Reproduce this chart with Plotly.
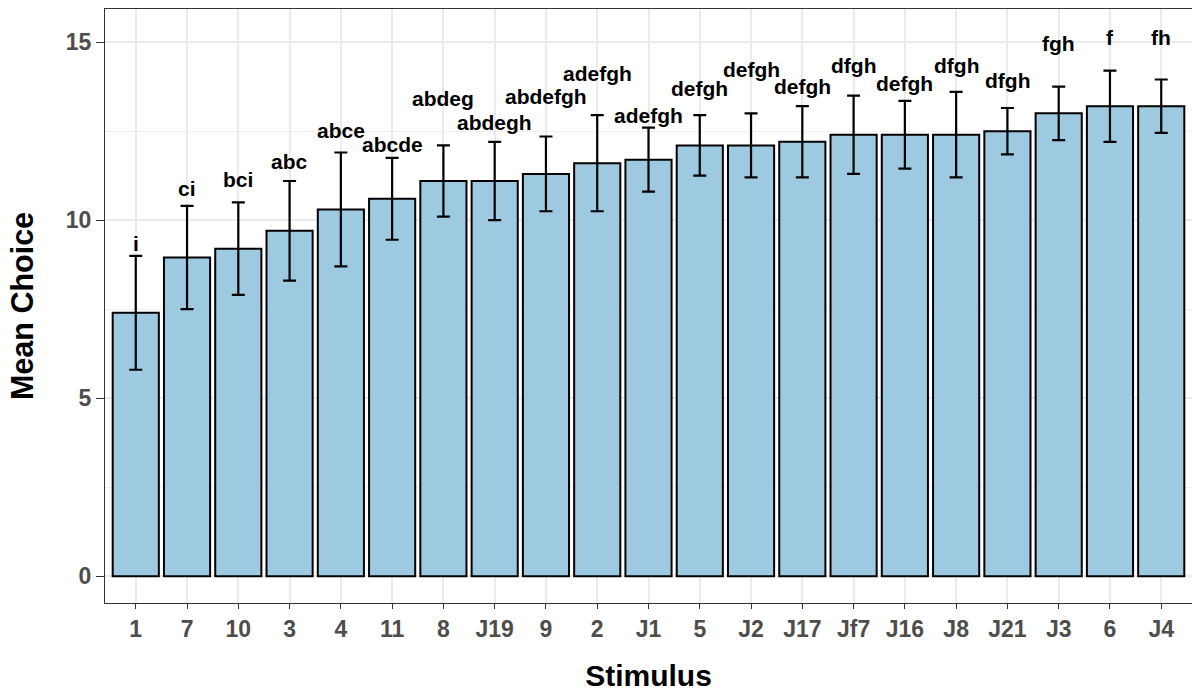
import plotly.graph_objects as go

# Stimuli ordered by mean choice
stimuli = ["1", "7", "10", "3", "4", "11", "8", "J19", "9", "2", "J1",
           "5", "J2", "J17", "Jf7", "J16", "J8", "J21", "J3", "6", "J4"]
mean_choice = [7.4, 8.95, 9.2, 9.7, 10.3, 10.6, 11.1, 11.1, 11.3, 11.6, 11.7,
               12.1, 12.1, 12.2, 12.4, 12.4, 12.4, 12.5, 13.0, 13.2, 13.2]
sd_choice = [1.6, 1.45, 1.3, 1.4, 1.6, 1.15, 1.0, 1.1, 1.05, 1.35, 0.9,
             0.85, 0.9, 1.0, 1.1, 0.95, 1.2, 0.65, 0.75, 1.0, 0.75]
# Compact letter display for pairwise comparisons
letters = ["i", "ci", "bci", "abc", "abce", "abcde", "abdeg", "abdegh", "abdefgh",
           "adefgh", "adefgh", "defgh", "defgh", "defgh", "dfgh", "defgh", "dfgh",
           "dfgh", "fgh", "f", "fh"]
# Height (in Mean Choice units) at which each letter group is centred
letter_y = [9.35, 10.89, 11.15, 11.64, 12.53, 12.13, 13.42, 12.73, 13.48,
            14.12, 12.93, 13.70, 14.23, 13.76, 14.33, 13.85, 14.33, 13.93,
            14.96, 15.13, 15.13]

FONT = "Liberation Sans, Arial, sans-serif"

fig = go.Figure()
fig.add_trace(go.Bar(
    x=stimuli,
    y=mean_choice,
    width=0.9,
    marker=dict(color="#9ecae1", line=dict(color="black", width=2)),
    error_y=dict(type="data", array=sd_choice, visible=True,
                 color="black", thickness=2.2, width=6.5),
    showlegend=False,
))

# Category axis positions are indices, so letters are placed by index
for idx, (lab, ly) in enumerate(zip(letters, letter_y)):
    fig.add_annotation(
        x=idx, y=ly, text=lab, showarrow=False,
        xanchor="center", yanchor="middle",
        font=dict(family=FONT, size=21, color="black", weight="bold"),
    )

fig.update_layout(
    width=1192, height=696,
    margin=dict(l=105, r=0, t=9, b=93),
    plot_bgcolor="white", paper_bgcolor="white",
    bargap=0.1,
)
fig.update_xaxes(
    type="category", range=[-0.6, 20.6],
    showline=True, linecolor="#333333", linewidth=1.3, mirror=True,
    ticks="outside", ticklen=5, tickwidth=1.3, tickcolor="#333333",
    showgrid=True, gridcolor="#ebebeb", gridwidth=1.5,
    tickfont=dict(family=FONT, size=23, color="#4d4d4d", weight="bold"),
    title=dict(text="Stimulus", standoff=24,
               font=dict(family=FONT, size=30, color="black", weight="bold")),
)
fig.update_yaxes(
    range=[-0.75, 15.93], tickvals=[0, 5, 10, 15],
    showline=True, linecolor="#333333", linewidth=1.3,
    ticks="outside", ticklen=8, tickwidth=1.3, tickcolor="#333333",
    showgrid=True, gridcolor="#ebebeb", gridwidth=1.5, zeroline=False,
    minor=dict(tickvals=[2.5, 7.5, 12.5], showgrid=True,
               gridcolor="#f0f0f0", gridwidth=1, ticks=""),
    tickfont=dict(family=FONT, size=23, color="#4d4d4d", weight="bold"),
    title=dict(text="Mean Choice", standoff=22,
               font=dict(family=FONT, size=30.5, color="black", weight="bold")),
)

fig.write_html("out.html")
